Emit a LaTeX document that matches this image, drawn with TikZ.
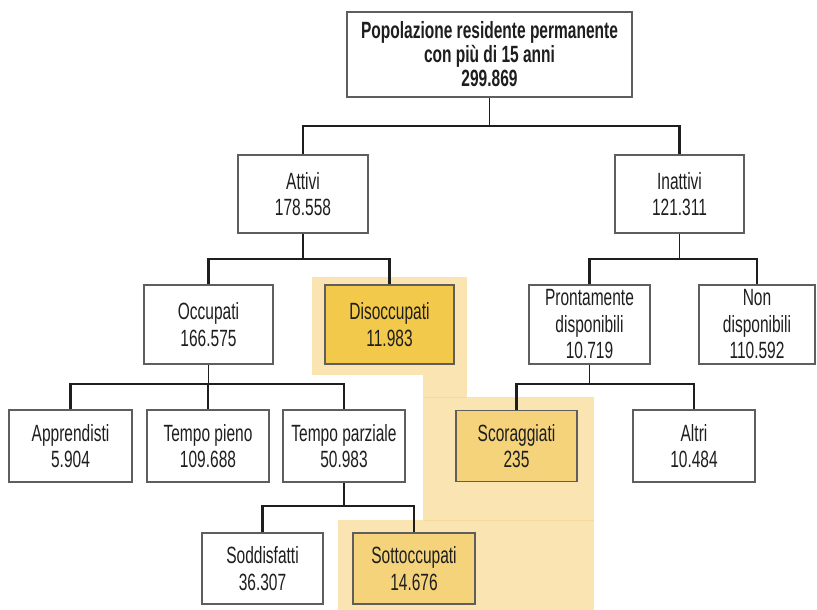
\documentclass[tikz,border=0pt]{standalone}
\usepackage{fontspec}
\setmainfont{Liberation Sans}[FakeStretch=0.66]
\definecolor{bgY}{HTML}{FAE5B2}
\definecolor{bgLine}{HTML}{F6DA96}
\definecolor{fillD}{HTML}{F2C94A}
\definecolor{fillL}{HTML}{F5D37A}
\definecolor{edge}{HTML}{5E5E5E}
\definecolor{ink}{HTML}{1E1E1E}
\definecolor{wire}{HTML}{1E1E1E}
\tikzset{
  box/.style={draw=edge, line width=1.3pt, fill=white, align=center, inner sep=0pt,
    text=ink, font=\fontsize{23.5}{26.5}\selectfont, minimum height=#1},
  box/.default=78pt,
  boxD/.style={box, fill=fillD},
  boxL/.style={box=71pt, fill=fillL},
  topbox/.style={draw=edge, line width=1.3pt, fill=white, align=center, inner sep=0pt,
    text=ink, font=\fontsize{23.5}{24}\selectfont\bfseries},
  stem/.style={draw=wire, line width=1.8pt},
  bar/.style={draw=wire, line width=2.2pt, line join=miter},
}
\begin{document}
\begin{tikzpicture}[x=1pt,y=-1pt]
\useasboundingbox (0,0) rectangle (817,610);

% highlight background
\fill[bgY] (312,277) rectangle (467,375);
\fill[bgY] (423,375) rectangle (467,397);
\fill[bgY] (423,397) rectangle (594,520);
\fill[bgY] (338,520) rectangle (594,610);
\draw[bgLine, line width=0.8pt] (423,397) -- (467,397);
\draw[bgLine, line width=0.8pt] (423,520) -- (594,520);

% bar levels
\coordinate (y1) at (0,126);
\coordinate (y2) at (0,259);
\coordinate (y3) at (0,384);
\coordinate (y4) at (0,506);

% nodes
\node[topbox, minimum width=285pt, minimum height=85pt] (top) at (489.5,54.5)
  {Popolazione residente permanente\\con più di 15 anni\\299.869};

\node[box, minimum width=130pt] (att) at (303,194) {Attivi\\178.558};
\node[box, minimum width=129pt] (inatt) at (679.5,194) {Inattivi\\121.311};

\node[box=79pt, minimum width=129pt] (occ) at (208.5,324.5) {Occupati\\166.575};
\node[boxD, minimum height=79pt, minimum width=129pt] (dis) at (389.5,324.5) {Disoccupati\\11.983};
\node[box=79pt, minimum width=121pt] (pro) at (589.5,324.5) {Prontamente\\disponibili\\10.719};
\node[box=79pt, minimum width=116pt] (non) at (757,324.5) {Non\\disponibili\\110.592};

\node[box=72pt, minimum width=123pt] (app) at (70.5,446) {Apprendisti\\5.904};
\node[box=72pt, minimum width=122pt] (tpi) at (208,446) {Tempo pieno\\109.688};
\node[box=72pt, minimum width=122pt] (tpa) at (344,446) {Tempo parziale\\50.983};
\node[boxL, minimum width=121pt] (sco) at (516.5,446) {Scoraggiati\\235};
\node[box=72pt, minimum width=122pt] (alt) at (694,446) {Altri\\10.484};

\node[box=71pt, minimum width=121pt] (sod) at (262.5,568.5) {Soddisfatti\\36.307};
\node[boxL, minimum width=122pt] (sot) at (414,568.5) {Sottoccupati\\14.676};

% connectors
\draw[stem] (top.south) -- (top.south |- y1);
\draw[bar] (att.north) -- (att.north |- y1) -- (inatt.north |- y1) -- (inatt.north);

\draw[stem] (att.south) -- (att.south |- y2);
\draw[bar] (occ.north) -- (occ.north |- y2) -- (dis.north |- y2) -- (dis.north);

\draw[stem] (inatt.south) -- (inatt.south |- y2);
\draw[bar] (pro.north) -- (pro.north |- y2) -- (non.north |- y2) -- (non.north);

\draw[stem] (occ.south) -- (occ.south |- y3);
\draw[bar] (app.north) -- (app.north |- y3) -- (tpa.north |- y3) -- (tpa.north);
\draw[bar] (tpi.north) -- (tpi.north |- y3);

\draw[stem] (pro.south) -- (pro.south |- y3);
\draw[bar] (sco.north) -- (sco.north |- y3) -- (alt.north |- y3) -- (alt.north);

\draw[stem] (tpa.south) -- (tpa.south |- y4);
\draw[bar] (sod.north) -- (sod.north |- y4) -- (sot.north |- y4) -- (sot.north);
\end{tikzpicture}
\end{document}
